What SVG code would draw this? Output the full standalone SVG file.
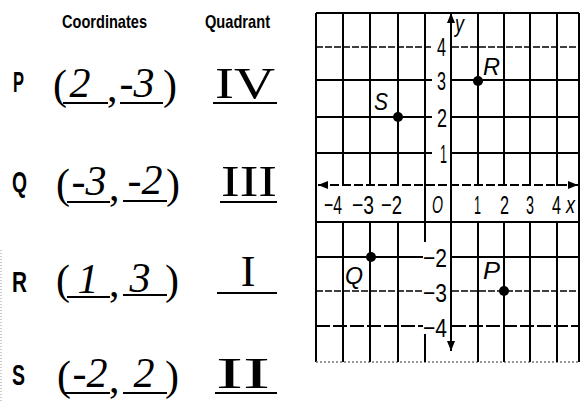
<svg xmlns="http://www.w3.org/2000/svg" width="581" height="403" viewBox="0 0 581 403">
<style>
.g{stroke:#000;stroke-width:2;fill:none}
.d{stroke:#000;stroke-width:1.6;fill:none;stroke-dasharray:7 2}
.ul{stroke:#000;stroke-width:2}
.lab{font-family:"Liberation Sans",Arial,sans-serif;font-size:26px;fill:#000}
.it{font-family:"Liberation Sans",Arial,sans-serif;font-style:italic;font-size:24px;fill:#000}
.hd{font-family:"Liberation Sans",Arial,sans-serif;font-weight:bold;font-size:19px;fill:#000}
.row{font-family:"Liberation Sans",Arial,sans-serif;font-weight:bold;font-size:30px;fill:#000}
.hw{font-family:"Liberation Serif","Times New Roman",serif;font-style:italic;font-size:42px;fill:#000}
.par{font-family:"Liberation Serif","Times New Roman",serif;font-size:42px;fill:#000}
.rom{font-family:"Liberation Serif","Times New Roman",serif;font-size:44px;fill:#000}
</style>
<defs>
<marker id="ah" viewBox="0 0 10 8" refX="10" refY="4" markerWidth="10" markerHeight="8" markerUnits="userSpaceOnUse" orient="auto-start-reverse">
<path d="M0,0 L10,4 L0,8 z" fill="#000"/>
</marker>
</defs>
<rect width="581" height="403" fill="#fff"/>
<line x1="1" y1="250" x2="1" y2="403" stroke="#999" stroke-width="1" stroke-dasharray="1 2"/>

<g id="table">
<text class="hd" x="62" y="28" textLength="85" lengthAdjust="spacingAndGlyphs">Coordinates</text>
<text class="hd" x="205" y="28" textLength="65" lengthAdjust="spacingAndGlyphs">Quadrant</text>

<g id="rowP">
<text class="row" x="13" y="92" textLength="11" lengthAdjust="spacingAndGlyphs">P</text>
<text class="par" x="53" y="99">(</text>
<text class="hw" x="80" y="97" text-anchor="middle">2</text>
<line class="ul" x1="63" y1="103" x2="108" y2="103"/>
<text class="par" x="107" y="101" font-size="24">,</text>
<text class="hw" x="137" y="97" text-anchor="middle">-3</text>
<line class="ul" x1="120" y1="103" x2="163" y2="103"/>
<text class="par" x="163" y="99">)</text>
<text class="rom" x="215" y="98" textLength="60" lengthAdjust="spacingAndGlyphs">IV</text>
<line class="ul" x1="213" y1="103" x2="277" y2="103"/>
</g>

<g id="rowQ">
<text class="row" x="12" y="192" textLength="15" lengthAdjust="spacingAndGlyphs">Q</text>
<text class="par" x="56" y="198">(</text>
<text class="hw" x="89" y="195" text-anchor="middle">-3</text>
<line class="ul" x1="67" y1="202" x2="110" y2="202"/>
<text class="par" x="109" y="200" font-size="24">,</text>
<text class="hw" x="145" y="194" text-anchor="middle">-2</text>
<line class="ul" x1="123" y1="201" x2="167" y2="201"/>
<text class="par" x="166" y="198">)</text>
<text class="rom" x="221" y="196" textLength="56" lengthAdjust="spacingAndGlyphs">III</text>
<line class="ul" x1="220" y1="202" x2="277" y2="202"/>
</g>

<g id="rowR">
<text class="row" x="12" y="292" textLength="15" lengthAdjust="spacingAndGlyphs">R</text>
<text class="par" x="56" y="294">(</text>
<text class="hw" x="88" y="293" text-anchor="middle">1</text>
<line class="ul" x1="67" y1="297" x2="110" y2="297"/>
<text class="par" x="109" y="296" font-size="24">,</text>
<text class="hw" x="140" y="292" text-anchor="middle">3</text>
<line class="ul" x1="123" y1="295" x2="167" y2="295"/>
<text class="par" x="165" y="294">)</text>
<text class="rom" x="248" y="286" text-anchor="middle">I</text>
<line class="ul" x1="217" y1="293" x2="277" y2="293"/>
</g>

<g id="rowS">
<text class="row" x="12" y="385" textLength="13" lengthAdjust="spacingAndGlyphs">S</text>
<text class="par" x="57" y="390">(</text>
<text class="hw" x="90" y="387" text-anchor="middle">-2</text>
<line class="ul" x1="63" y1="393" x2="110" y2="393"/>
<text class="par" x="109" y="392" font-size="24">,</text>
<text class="hw" x="144" y="387" text-anchor="middle">2</text>
<line class="ul" x1="123" y1="393" x2="167" y2="393"/>
<text class="par" x="165" y="390">)</text>
<text class="rom" x="216" y="388" textLength="54" lengthAdjust="spacingAndGlyphs">II</text>
<line class="ul" x1="215" y1="393" x2="277" y2="393"/>
</g>
</g>

<g id="grid">
<line class="g" x1="316" y1="13" x2="579" y2="13"/>
<line class="g" x1="316" y1="13" x2="316" y2="362"/>
<line class="g" x1="579" y1="13" x2="579" y2="362"/>
<line x1="316" y1="362" x2="579" y2="362" stroke="#777" stroke-width="1.5" stroke-dasharray="2 2"/>
<path class="g" d="M343,13V186M343,222V362M370,13V186M370,222V362M398,13V186M398,222V362M478,13V186M478,222V362M504,13V186M504,222V362M530,13V186M530,222V362M557,13V186M557,222V362"/>
<path class="g" d="M425,13V242M425,334V362"/>
<path class="d" d="M316,47H432M452,47H579"/>
<path class="g" d="M316,80H432M452,80H579"/>
<path class="g" d="M316,117H432M452,117H579"/>
<path class="g" d="M316,153H432M452,153H579"/>
<path class="g" d="M316,222H579"/>
<path class="g" d="M316,257H423M452,257H579"/>
<path class="d" d="M316,291H423M452,291H579"/>
<path class="g" d="M316,326H423M452,326H579" stroke-dasharray="14 3"/>
</g>

<g id="axes">
<line x1="318" y1="185" x2="578" y2="185" stroke="#000" stroke-width="1.8" stroke-dasharray="9 3" marker-start="url(#ah)" marker-end="url(#ah)"/>
<line x1="451" y1="351" x2="451" y2="13" stroke="#000" stroke-width="2" marker-start="url(#ah)" marker-end="url(#ah)"/>
<text class="it" x="455" y="32" textLength="9" lengthAdjust="spacingAndGlyphs">y</text>
<text class="it" x="566" y="213" textLength="9" lengthAdjust="spacingAndGlyphs">x</text>
</g>

<g id="ticks">
<text class="lab" x="437" y="56" textLength="9" lengthAdjust="spacingAndGlyphs">4</text>
<text class="lab" x="437" y="90" textLength="9" lengthAdjust="spacingAndGlyphs">3</text>
<text class="lab" x="437" y="127" textLength="10" lengthAdjust="spacingAndGlyphs">2</text>
<text class="lab" x="440" y="163" textLength="7" lengthAdjust="spacingAndGlyphs">1</text>
<text class="lab" x="423" y="267" textLength="24" lengthAdjust="spacingAndGlyphs">−2</text>
<text class="lab" x="423" y="302" textLength="24" lengthAdjust="spacingAndGlyphs">−3</text>
<text class="lab" x="423" y="337" textLength="24" lengthAdjust="spacingAndGlyphs">−4</text>
<text class="lab" x="324" y="214" textLength="18" lengthAdjust="spacingAndGlyphs">−4</text>
<text class="lab" x="352" y="214" textLength="22" lengthAdjust="spacingAndGlyphs">−3</text>
<text class="lab" x="381" y="214" textLength="21" lengthAdjust="spacingAndGlyphs">−2</text>
<text class="it" x="432" y="213" textLength="11" lengthAdjust="spacingAndGlyphs">O</text>
<text class="lab" x="474" y="214" textLength="7" lengthAdjust="spacingAndGlyphs">1</text>
<text class="lab" x="500" y="214" textLength="9" lengthAdjust="spacingAndGlyphs">2</text>
<text class="lab" x="526" y="214" textLength="8" lengthAdjust="spacingAndGlyphs">3</text>
<text class="lab" x="552" y="214" textLength="9" lengthAdjust="spacingAndGlyphs">4</text>
</g>

<g id="pointR"><circle cx="478" cy="81" r="5"/><text class="it" x="483" y="75" textLength="17" lengthAdjust="spacingAndGlyphs">R</text></g>
<g id="pointS"><circle cx="398" cy="117" r="5"/><text class="it" x="374" y="110" textLength="14" lengthAdjust="spacingAndGlyphs">S</text></g>
<g id="pointQ"><circle cx="371" cy="257" r="5"/><text class="it" x="345" y="284" textLength="18" lengthAdjust="spacingAndGlyphs">Q</text></g>
<g id="pointP"><circle cx="504" cy="291" r="5"/><text class="it" x="483" y="279" textLength="17" lengthAdjust="spacingAndGlyphs">P</text></g>
</svg>
